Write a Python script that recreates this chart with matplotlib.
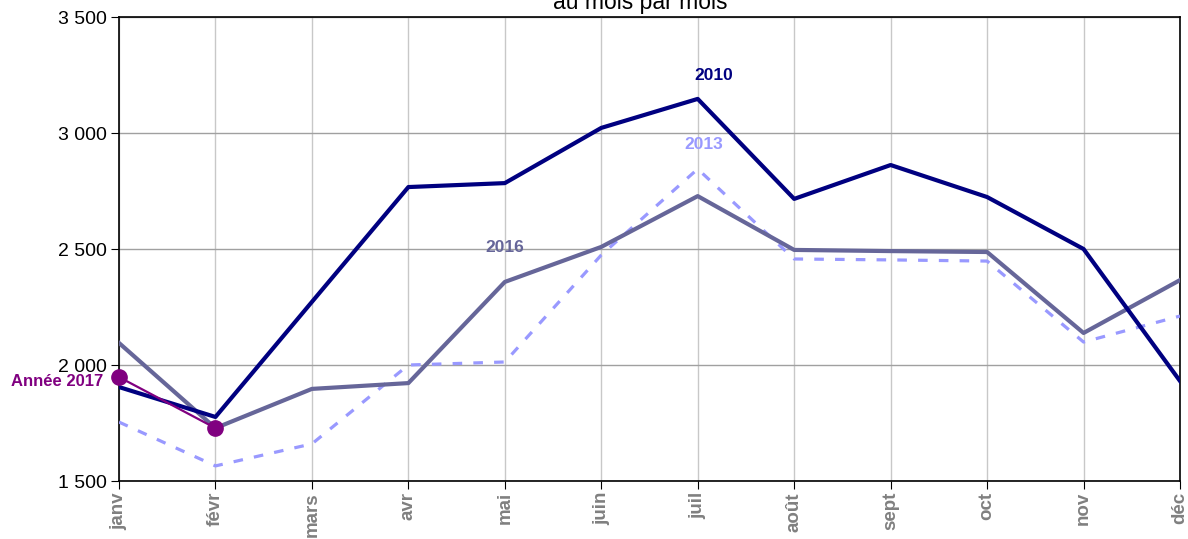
import matplotlib
matplotlib.use("Agg")
import matplotlib.pyplot as plt
from matplotlib.ticker import FuncFormatter

plt.rcParams['font.family'] = ['Liberation Sans', 'DejaVu Sans']

mois = ["janv", "févr", "mars", "avr", "mai", "juin", "juil", "août", "sept", "oct", "nov", "déc"]
v2010 = [1905, 1776, 2272, 2767, 2784, 3022, 3147, 2716, 2862, 2724, 2500, 1931]
v2013 = [1754, 1565, 1660, 2000, 2013, 2474, 2845, 2457, 2453, 2448, 2099, 2211]
v2016 = [2095, 1728, 1897, 1922, 2358, 2509, 2728, 2496, 2491, 2487, 2138, 2366]
v2017 = [1948, 1728]

fig = plt.figure(figsize=(11.88, 5.39), dpi=100)
ax = fig.add_axes([119/1188, 1 - 481/539, (1180 - 119)/1188, (481 - 17)/539])

x = list(range(len(mois)))
ax.plot(x, v2013, color="#9999FF", lw=2.3, ls=(0, (3, 3.5)), zorder=3)
ax.plot(x, v2016, color="#666699", lw=3, zorder=4)
ax.plot(x, v2010, color="#000080", lw=3, zorder=5)
ax.plot(x[:len(v2017)], v2017, color="#800080", lw=1.6, marker="o", ms=11, zorder=6, clip_on=False)

ax.set_xlim(0, 11)
ax.set_ylim(1500, 3500)
ax.set_yticks([1500, 2000, 2500, 3000, 3500])
ax.yaxis.set_major_formatter(FuncFormatter(lambda v, p: f"{int(v):,}".replace(",", " ")))
ax.set_xticks(x)
ax.set_xticklabels(mois, rotation=90, color="#808080", fontweight="bold", fontsize=13.5)
ax.tick_params(axis="y", labelsize=14, direction="out", length=6, pad=3)
ax.tick_params(axis="x", direction="out", length=6, pad=2)
ax.grid(axis="x", color="#C8C8C8", lw=1)
ax.grid(axis="y", color="#A0A0A0", lw=1)
ax.set_axisbelow(True)
for s in ax.spines.values():
    s.set_color("black")
    s.set_linewidth(1.2)

ax.text(6.17, 3250, "2010", color="#000080", fontweight="bold", fontsize=12.5, ha="center", va="center")
ax.text(6.06, 2952, "2013", color="#9999FF", fontweight="bold", fontsize=12.5, ha="center", va="center")
ax.text(4.0, 2505, "2016", color="#666699", fontweight="bold", fontsize=12.5, ha="center", va="center")
ax.text(-0.64, 1928, "Année 2017", color="#800080", fontweight="bold", fontsize=12, ha="center", va="center")

fig.text(640/1188, 1 - 3/539, "au mois par mois", fontsize=16.5, ha="center", va="center")

fig.savefig("out.png", dpi=100)
